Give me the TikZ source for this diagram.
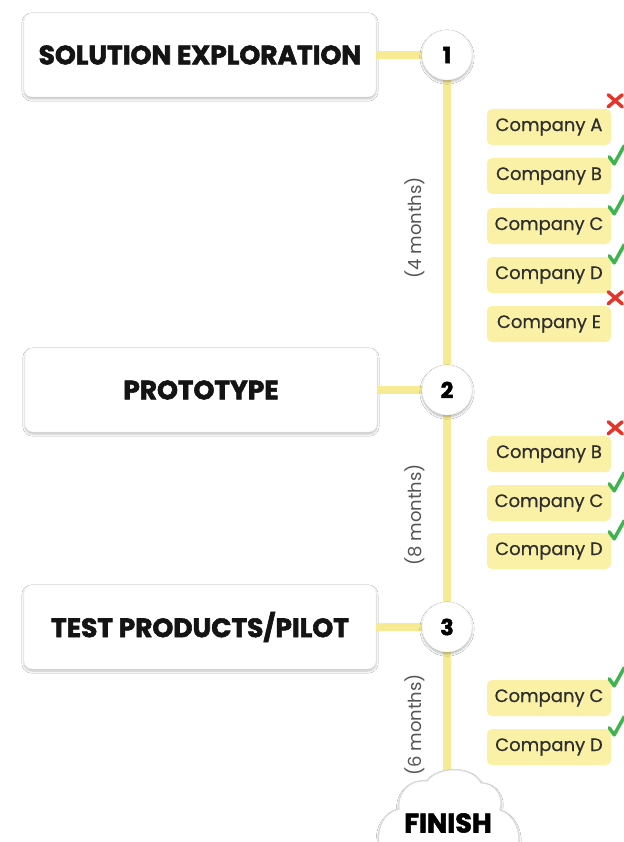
\documentclass[tikz,border=0pt]{standalone}
\usepackage{fontspec}
\setmainfont{Poppins}
\usetikzlibrary{shadows.blur,calc}
\definecolor{lineyel}{HTML}{F6EA93}
\definecolor{boxyel}{HTML}{FBF1A6}
\definecolor{okgreen}{HTML}{3FB34F}
\definecolor{badred}{HTML}{E5352B}
\definecolor{txtgray}{HTML}{555555}
\newfontfamily\heavyfont[FakeBold=2.2]{Poppins Bold}
\newfontfamily\medfont[FakeBold=0.6]{Poppins}
\tikzset{
  stagebox/.style={draw=gray!18, fill=white, rounded corners=8pt, minimum width=352pt, minimum height=84pt,
    blur shadow={shadow blur steps=6, shadow xshift=0pt, shadow yshift=-2pt, shadow opacity=25},
    font=\fontsize{26.5}{28}\heavyfont, text=black!92},
  stepcirc/.style={circle, draw=gray!15, fill=white, minimum size=50pt, inner sep=0pt,
    blur shadow={shadow blur steps=6, shadow xshift=0pt, shadow yshift=-2pt, shadow opacity=30},
    font=\fontsize{22}{24}\heavyfont},
  comp/.style={fill=boxyel, rounded corners=5pt, minimum width=124pt, minimum height=36pt, inner sep=0pt,
    font=\fontsize{18}{20}\medfont, text=black!82},
  conn/.style={draw=lineyel, line width=8pt},
  dur/.style={rotate=90, font=\fontsize{18}{20}\selectfont, text=txtgray},
  okmark/.style={draw=okgreen, line width=3.5pt, line cap=round, line join=round},
  badmark/.style={draw=badred, line width=3.5pt, line cap=round},
}
\newcommand{\okat}[1]{\draw[okmark] ($(#1.north east)+(-2,-1)$) -- ++(5,7) -- ++(10,-18);}
\newcommand{\badat}[1]{\draw[badmark] ($(#1.north east)+(-3,-14)$) -- ++(14,12) ($(#1.north east)+(-3,-2)$) -- ++(14,-12);}
\begin{document}
\begin{tikzpicture}[x=1pt,y=-1pt]
\useasboundingbox (0,0) rectangle (623,842);
\fill[white] (0,0) rectangle (623,842);
% vertical line
\coordinate (fintop) at (447,782);
\draw[conn] (447,55) -- (fintop);
% stages
\node[stagebox] (s1) at (200,55) {SOLUTION EXPLORATION};
\node[stagebox] (s2) at (201,390) {PROTOTYPE};
\node[stagebox] (s3) at (200,627) {TEST PRODUCTS/PILOT};
\path (447,55) coordinate (p1) (447,390) coordinate (p2) (447,627) coordinate (p3);
\draw[conn] (s1.east) -- (p1);
\draw[conn] (s2.east) -- (p2);
\draw[conn] (s3.east) -- (p3);
\node[stepcirc] (c1) at (p1) {1};
\node[stepcirc] (c2) at (p2) {2};
\node[stepcirc] (c3) at (p3) {3};
% durations
\node[dur] (d1) at (415,228) {(4 months)};
\node[dur] (d2) at (415,515) {(8 months)};
\node[dur] (d3) at (415,725) {(6 months)};
% companies
\node[comp] (a1) at (549,127) {Company A};
\node[comp] (b1) at (549,176) {Company B};
\node[comp] (cc1) at (549,226) {Company C};
\node[comp] (dd1) at (549,275) {Company D};
\node[comp] (e1) at (549,324) {Company E};
\node[comp] (b2) at (549,454) {Company B};
\node[comp] (cc2) at (549,503) {Company C};
\node[comp] (dd2) at (549,551) {Company D};
\node[comp] (cc3) at (549,698) {Company C};
\node[comp] (dd3) at (549,747) {Company D};
\badat{a1}
\okat{b1}
\okat{cc1}
\okat{dd1}
\badat{e1}
\badat{b2}
\okat{cc2}
\okat{dd2}
\okat{cc3}
\okat{dd3}
% finish cloud
\path[fill=white, draw=gray!30, line width=1.2pt,
  blur shadow={shadow blur steps=6, shadow xshift=0pt, shadow yshift=-2pt, shadow opacity=30}]
  (379,846) .. controls (376,828) and (384,812) .. (399,809)
  .. controls (397,792) and (410,779) .. (427,781)
  .. controls (438,766) and (472,765) .. (481,783)
  .. controls (497,783) and (504,798) .. (500,810)
  .. controls (514,814) and (522,832) .. (518,846) -- cycle;
\node[font=\fontsize{27}{29}\heavyfont] (fin) at (448,823) {FINISH};
\end{tikzpicture}
\end{document}
